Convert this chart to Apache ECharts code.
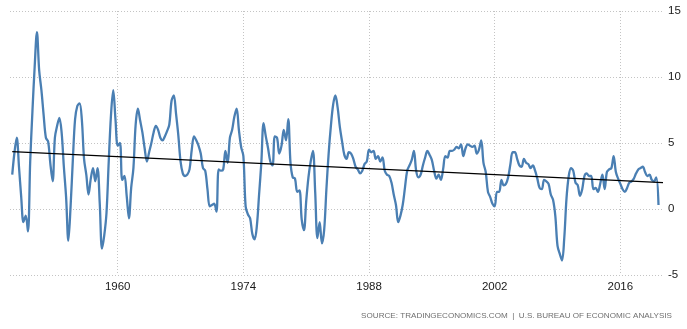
<!DOCTYPE html>
<html><head><meta charset="utf-8">
<script src="https://cdn.jsdelivr.net/npm/echarts@6/dist/echarts.min.js"></script>
<style>html,body{margin:0;padding:0;background:#fff}#c{width:687px;height:329px}</style>
</head><body><div id="c"></div>
<script>
// US GDP annual growth rate (%), quarterly, 1948 Q1 - 2020 Q1
const startYear = 1948;
const gdpGrowth = [
  2.6, 4.3, 5.4, 3.2,     // 1948
  0.9, -1.0, -0.5, -1.7,  // 1949
  3.6, 7.4, 10.8, 13.4,   // 1950
  10.5, 9.0, 7.1, 5.4,    // 1951
  5.1, 3.4, 2.1, 5.4,     // 1952
  6.3, 6.9, 5.8, 3.2,     // 1953
  0.9, -2.4, 0.2, 3.7,    // 1954
  6.8, 7.8, 8.0, 6.8,     // 1955
  3.8, 2.6, 1.1, 2.3,     // 1956
  3.1, 2.1, 3.1, 0.4,     // 1957
  -3.0, -2.0, -0.3, 3.6,  // 1958
  7.1, 9.0, 6.8, 4.8,     // 1959
  5.0, 2.2, 2.5, 1.0,     // 1960
  -0.7, 1.6, 3.1, 6.4,    // 1961
  7.6, 6.7, 5.8, 4.6,     // 1962
  3.6, 4.3, 5.0, 5.8,     // 1963
  6.3, 6.0, 5.4, 5.2,     // 1964
  5.5, 5.9, 6.4, 8.2,     // 1965
  8.6, 7.2, 5.6, 3.6,     // 1966
  2.7, 2.5, 2.6, 3.0,     // 1967
  4.5, 5.5, 5.2, 4.8,     // 1968
  4.2, 3.1, 2.9, 1.5,     // 1969
  0.2, 0.3, 0.4, -0.2,    // 1970
  3.0, 2.9, 3.0, 4.4,     // 1971
  3.5, 5.4, 6.0, 7.0,     // 1972
  7.6, 6.0, 4.7, 4.0,     // 1973
  0.2, -0.4, -0.7, -1.9,  // 1974
  -2.3, -1.3, 1.1, 3.5,   // 1975
  6.5, 5.5, 4.6, 3.6,     // 1976
  3.3, 5.5, 5.4, 4.2,     // 1977
  4.8, 6.0, 5.2, 6.8,     // 1978
  3.5, 2.4, 2.3, 1.3,     // 1979
  1.4, -0.8, -1.6, 0.6,   // 1980
  2.4, 3.6, 4.4, 1.3,     // 1981
  -2.2, -1.0, -2.6, -1.6, // 1982
  1.5, 4.2, 6.3, 7.9,     // 1983
  8.6, 7.7, 6.2, 5.1,     // 1984
  4.1, 3.8, 4.3, 4.2,     // 1985
  3.8, 3.2, 3.0, 2.7,     // 1986
  2.9, 3.4, 3.6, 4.5,     // 1987
  4.3, 4.4, 3.8, 4.0,     // 1988
  3.6, 3.9, 2.9, 2.6,     // 1989
  2.5, 2.0, 1.1, 0.3,     // 1990
  -1.0, -0.5, 0.3, 1.6,   // 1991
  2.9, 3.3, 3.7, 4.4,     // 1992
  2.9, 2.4, 2.6, 3.3,     // 1993
  3.9, 4.4, 4.1, 3.7,     // 1994
  2.9, 2.3, 2.6, 2.2,     // 1995
  3.0, 4.0, 3.9, 4.4,     // 1996
  4.4, 4.5, 4.7, 4.6,     // 1997
  4.9, 4.0, 4.6, 4.9,     // 1998
  4.8, 4.7, 4.8, 4.2,     // 1999
  4.5, 5.2, 3.5, 2.8,     // 2000
  1.3, 0.9, 0.4, 0.2,     // 2001
  1.3, 1.3, 2.2, 1.8,     // 2002
  1.9, 2.4, 3.4, 4.3,     // 2003
  4.3, 3.8, 3.3, 3.2,     // 2004
  3.8, 3.5, 3.4, 3.1,     // 2005
  3.3, 2.9, 2.3, 1.6,     // 2006
  1.5, 2.2, 2.1, 1.9,     // 2007
  1.1, 0.7, -0.5, -2.8,   // 2008
  -3.4, -3.9, -2.2, 0.8,  // 2009
  2.5, 3.1, 2.9, 2.0,     // 2010
  1.8, 1.0, 1.5, 2.5,     // 2011
  2.7, 2.5, 2.5, 1.5,     // 2012
  1.6, 1.3, 1.9, 2.6,     // 2013
  1.5, 2.8, 3.0, 3.1,     // 2014
  4.0, 2.8, 2.3, 1.9,     // 2015
  1.5, 1.3, 1.6, 2.0,     // 2016
  2.1, 2.3, 2.7, 3.0,     // 2017
  3.1, 3.2, 2.8, 2.5,     // 2018
  2.6, 2.2, 2.1, 2.4,     // 2019
  0.3                     // 2020
];
const xTickYears = [1960, 1974, 1988, 2002, 2016];
const xMin = 1948, xMax = 2020.75;
const yMin = -5, yMax = 15, yStep = 5;
const trendValues = [4.35, 2.0];
const sourceText = 'SOURCE: TRADINGECONOMICS.COM  |  U.S. BUREAU OF ECONOMIC ANALYSIS';

// each quarter is placed at its quarter-end date (decimal year)
const points = gdpGrowth.map((v, i) => [startYear + (i + 1) / 4, v]);
const trendPoints = [[points[0][0], trendValues[0]], [xMax, trendValues[1]]];

const labelFont = 'Liberation Sans, Arial, sans-serif';
const gridLine = { type: [1, 2], color: '#c4c4c4', width: 1 };
const chart = echarts.init(document.getElementById('c'), null, { renderer: 'canvas' });
chart.setOption({
  animation: false,
  backgroundColor: '#fff',
  grid: { left: 10, right: 24, top: 11, bottom: 54 },
  xAxis: {
    type: 'value', min: xMin, max: xMax,
    axisLine: { show: false },
    axisTick: { show: false, customValues: xTickYears },
    axisLabel: { customValues: xTickYears, color: '#1a1a1a', fontSize: 11.5,
      fontFamily: labelFont, margin: 6, formatter: v => String(Math.round(v)) },
    splitLine: { show: true, lineStyle: gridLine }
  },
  yAxis: {
    type: 'value', position: 'right', min: yMin, max: yMax, interval: yStep,
    axisLine: { show: false }, axisTick: { show: false },
    axisLabel: { color: '#1a1a1a', fontSize: 11.5, fontFamily: labelFont, margin: 5,
      formatter: v => String(v) },
    splitLine: { show: true, lineStyle: gridLine }
  },
  series: [
    { type: 'line', data: points, smooth: 0.35, symbol: 'none',
      lineStyle: { color: '#4a7fb3', width: 2.3 }, z: 3 },
    { type: 'line', data: trendPoints, symbol: 'none',
      lineStyle: { color: '#000', width: 1.3 }, z: 4 }
  ],
  graphic: [{
    type: 'text', right: 15, top: 312,
    style: { text: sourceText, fill: '#6f6f6f', font: '8.1px "Liberation Sans", Arial, sans-serif' }
  }]
});
</script></body></html>
